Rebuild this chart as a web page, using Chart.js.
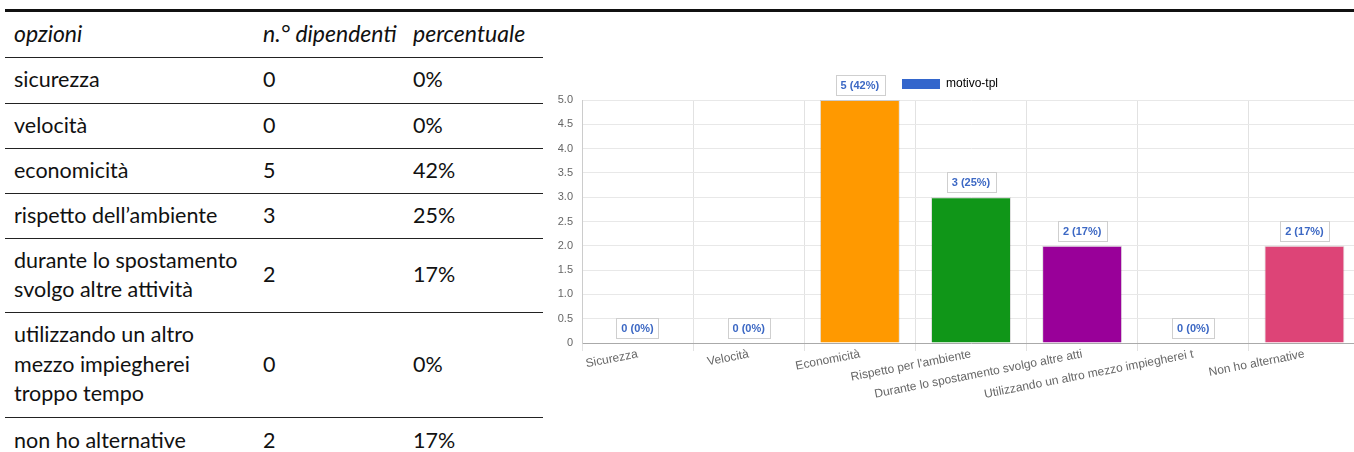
<!DOCTYPE html>
<html>
<head>
<meta charset="utf-8">
<script src="https://cdn.jsdelivr.net/npm/chart.js@4/dist/chart.umd.min.js"></script>
<style>
  html, body { margin:0; padding:0; background:#fff; }
  body { width:1354px; height:452px; overflow:hidden; position:relative; }
  #topRule { position:absolute; left:5px; top:9px; width:1349px; height:3px; background:#111; }
  #tbl { position:absolute; left:5px; top:10px; width:538px; border-collapse:collapse;
         font-family: Lato, "Open Sans", sans-serif; font-size:21.5px; color:#111; }
  #tbl td, #tbl th { padding:0; vertical-align:middle; text-align:left; font-weight:normal;
         border-bottom:1.5px solid #222; line-height:29.5px; white-space:pre-line; }
  #tbl th { font-style:italic; font-size:23px; }
  #tbl tr:last-child td { border-bottom:none; }
  #tbl .c1 { padding-left:9px; width:249px; }
  #tbl .c2 { width:150px; }
  #chartBox { position:absolute; left:540px; top:60px; width:820px; height:380px; }
</style>
</head>
<body>
<div id="topRule"></div>
<table id="tbl"></table>
<div id="chartBox"><canvas id="c"></canvas></div>
<script>
// ---- data ----
const tableHeaders = ["opzioni", "n.° dipendenti", "percentuale"];
const tableOptions = [
  "sicurezza",
  "velocità",
  "economicità",
  "rispetto dell’ambiente",
  "durante lo spostamento\nsvolgo altre attività",
  "utilizzando un altro\nmezzo impiegherei\ntroppo tempo",
  "non ho alternative"
];
const chartLabels = [
  "Sicurezza",
  "Velocità",
  "Economicità",
  "Rispetto per l'ambiente",
  "Durante lo spostamento svolgo altre atti",
  "Utilizzando un altro mezzo impiegherei t",
  "Non ho alternative"
];
const counts = [0, 0, 5, 3, 2, 0, 2];
const percents = [0, 0, 42, 25, 17, 0, 17];
const barColors = ["#3366cc", "#dc3912", "#ff9900", "#109618", "#990099", "#0099c6", "#dd4477"];
const seriesName = "motivo-tpl";
const legendColor = "#3366cc";
const rowHeights = [47, 46, 45, 45, 45, 74, 105, 47];

// ---- table ----
const tbl = document.getElementById('tbl');
let html = '<tr style="height:' + rowHeights[0] + 'px"><th class="c1">' + tableHeaders[0] +
  '</th><th class="c2">' + tableHeaders[1] + '</th><th>' + tableHeaders[2] + '</th></tr>';
tableOptions.forEach((o, i) => {
  html += '<tr style="height:' + rowHeights[i + 1] + 'px"><td class="c1">' + o + '</td><td class="c2">' +
    counts[i] + '</td><td>' + percents[i] + '%</td></tr>';
});
tbl.innerHTML = html;

// ---- chart ----
const valueLabels = {
  id: 'valueLabels',
  afterDatasetsDraw(chart) {
    const ctx = chart.ctx;
    const meta = chart.getDatasetMeta(0);
    ctx.save();
    ctx.font = 'bold 11px "Liberation Sans", Arial, sans-serif';
    ctx.textAlign = 'center';
    ctx.textBaseline = 'middle';
    meta.data.forEach((bar, i) => {
      const txt = counts[i] + ' (' + percents[i] + '%)';
      const w = ctx.measureText(txt).width + 10;
      const h = 20;
      const x = bar.x - w / 2;
      const y = bar.y - 5 - h;
      ctx.fillStyle = '#fff';
      ctx.fillRect(x, y, w, h);
      ctx.strokeStyle = '#cfcfcf';
      ctx.lineWidth = 1;
      ctx.strokeRect(Math.round(x) + 0.5, Math.round(y) + 0.5, Math.round(w), h);
      ctx.fillStyle = '#3c68c4';
      ctx.fillText(txt, bar.x, y + h / 2 + 1);
    });
    ctx.restore();
  }
};

new Chart(document.getElementById('c'), {
  type: 'bar',
  data: {
    labels: chartLabels,
    datasets: [{
      label: seriesName,
      data: counts,
      backgroundColor: barColors,
      borderColor: 'rgba(0,0,0,0.12)',
      borderWidth: 1,
      categoryPercentage: 1,
      barPercentage: 0.72
    }]
  },
  options: {
    responsive: true,
    maintainAspectRatio: false,
    animation: false,
    layout: { padding: { top: 8, left: 0, right: 0, bottom: 0 } },
    plugins: {
      tooltip: { enabled: false },
      legend: {
        display: true,
        position: 'top',
        labels: {
          boxWidth: 38,
          boxHeight: 10,
          padding: 10,
          color: '#666',
          font: { family: '"Liberation Sans", Arial, sans-serif', size: 12 },
          generateLabels: (chart) => [{
            text: seriesName, fillStyle: legendColor, strokeStyle: legendColor,
            lineWidth: 0, hidden: false, datasetIndex: 0
          }]
        }
      }
    },
    scales: {
      x: {
        grid: { color: '#e2e2e2', offset: true, drawTicks: true, tickLength: 8 },
        border: { color: '#aaa' },
        ticks: {
          color: '#666',
          font: { family: '"Liberation Sans", Arial, sans-serif', size: 12 },
          minRotation: 11,
          maxRotation: 11,
          autoSkip: false,
          padding: -4
        },
        afterFit(s) { s.height = 97; }
      },
      y: {
        min: 0,
        max: 5,
        grid: { color: '#e8e8e8', drawTicks: false },
        border: { color: '#ccc' },
        ticks: {
          stepSize: 0.5,
          color: '#666',
          padding: 9,
          font: { family: '"Liberation Sans", Arial, sans-serif', size: 11 },
          callback: (v) => v === 0 ? '0' : Number(v).toFixed(1)
        },
        afterFit(s) { s.width = 42; }
      }
    }
  },
  plugins: [valueLabels]
});
</script>
</body>
</html>
